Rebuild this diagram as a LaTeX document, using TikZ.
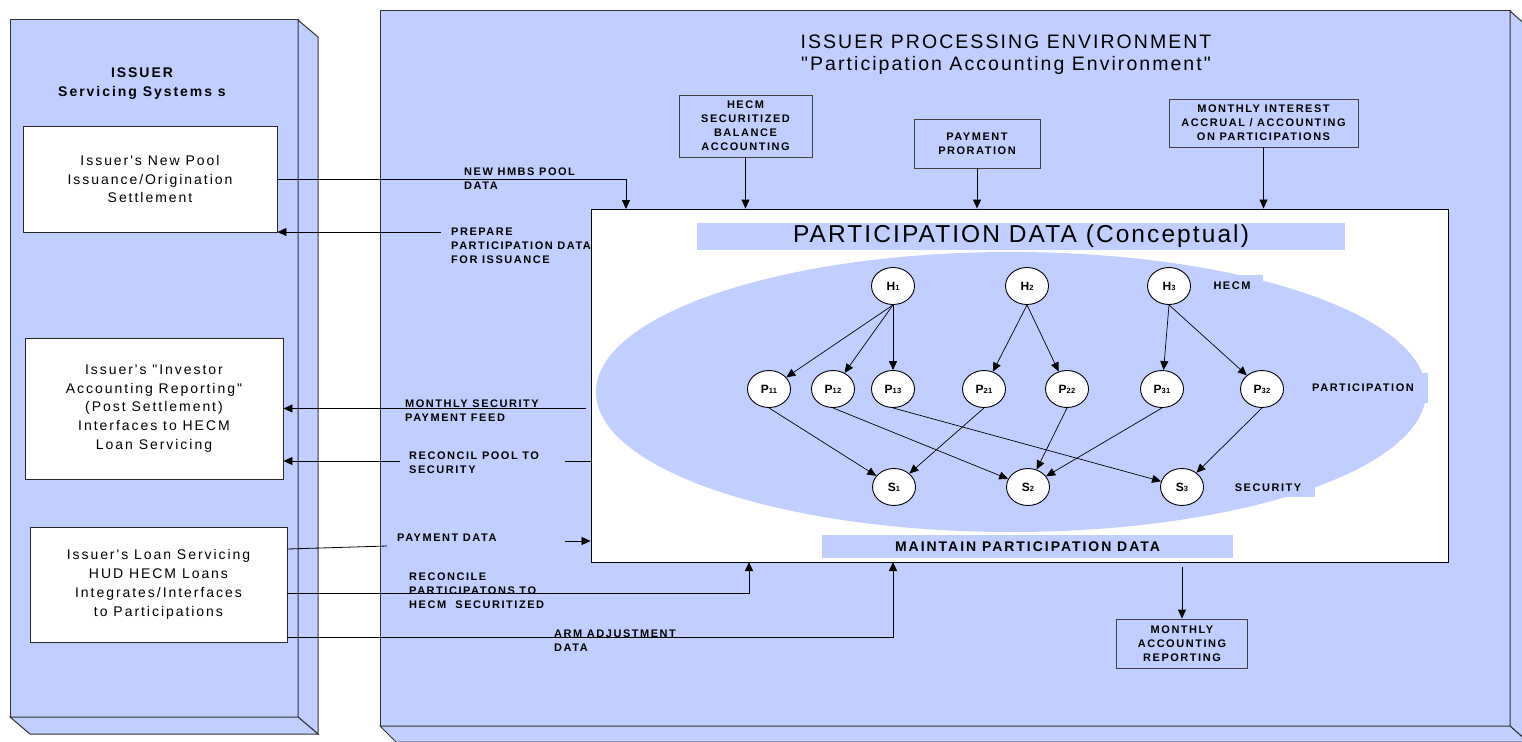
\documentclass[tikz,border=0pt]{standalone}
\usepackage{fontspec}
\setmainfont{Liberation Sans}
\newfontfamily\fsmall{Liberation Sans}[LetterSpace=14,Ligatures=TeXOff]
\newfontfamily\ftxt{Liberation Sans}[LetterSpace=14,Ligatures=TeXOff]
\newfontfamily\fttl{Liberation Sans}[LetterSpace=10.5,Ligatures=TeXOff]
\newfontfamily\fbig{Liberation Sans}[LetterSpace=8.5,Ligatures=TeXOff]
\newfontfamily\fnode{Liberation Sans}[LetterSpace=4,Ligatures=TeXOff]
\usetikzlibrary{arrows.meta,shapes.geometric}
\definecolor{bluefill}{RGB}{192,207,255}
\newcommand\pnd[2]{#1{\fontsize{7.5}{8}\selectfont #2}}
\begin{document}
\begin{tikzpicture}[x=1pt,y=-1pt,
  boxline/.style={draw=black!80,line width=1pt,fill=bluefill},
  arr/.style={-{Triangle[length=9pt,width=8pt]},line width=0.8pt,draw=black},
  sarr/.style={-{Triangle[length=9pt,width=8pt]},line width=0.7pt,draw=black},
  sys/.style={draw=black!85,fill=white,line width=0.9pt,align=center,inner sep=0pt,font=\ftxt\fontsize{14}{18.8}\selectfont},
  proc/.style={draw=black!75,fill=bluefill,line width=0.8pt,align=center,inner sep=0pt,font=\fsmall\bfseries\fontsize{11}{14}\selectfont},
  lbl/.style={anchor=north west,inner sep=0pt,align=left,font=\fsmall\bfseries\fontsize{11}{14}\selectfont},
  circ/.style={ellipse,draw=black,fill=white,line width=0.9pt,minimum width=43pt,minimum height=37pt,inner sep=0pt,font=\fnode\bfseries\fontsize{12}{13}\selectfont},
  tag/.style={fill=bluefill,inner sep=0pt,font=\fsmall\bfseries\fontsize{11}{12}\selectfont},
]
\useasboundingbox (0,0) rectangle (1522,741);
\fill[white] (0,0) rectangle (1522,741);
\clip (0,0) rectangle (1522,741);

% left 3D box
\draw[boxline] (10,20) rectangle (298,717);
\draw[boxline] (298,20) -- (318,37) -- (318,734) -- (298,717) -- cycle;
\draw[boxline] (10,717) -- (30,734) -- (318,734) -- (298,717) -- cycle;

% right 3D box
\draw[boxline] (380,11) rectangle (1510,726);
\draw[boxline] (1510,11) -- (1528,27) -- (1528,742) -- (1510,726) -- cycle;
\draw[boxline] (380,726) -- (396,742) -- (1528,742) -- (1510,726) -- cycle;

% titles
\node[align=center,inner sep=0pt,font=\ftxt\bfseries\fontsize{14}{19}\selectfont] (ltitle) at (142,84) {ISSUER\\Servicing Systems s};
\node[align=center,inner sep=0pt,font=\fttl\fontsize{19.5}{22}\selectfont] (rtitle) at (1006,55) {ISSUER PROCESSING ENVIRONMENT\\"Participation Accounting Environment"};

% issuer boxes
\node[sys,minimum width=254pt,minimum height=106pt] (box1) at (150,179) {Issuer's New Pool\\Issuance/Origination\\Settlement};
\node[sys,minimum width=258pt,minimum height=141pt] (box2) at (154,408.5) {Issuer's "Investor\\Accounting Reporting"\\(Post Settlement)\\Interfaces to HECM\\Loan Servicing};
\node[sys,minimum width=257pt,minimum height=115pt] (box3) at (158.5,584.5) {Issuer's Loan Servicing\\HUD HECM Loans\\Integrates/Interfaces\\to Participations};

% process boxes
\node[proc,minimum width=133pt,minimum height=62pt] (hecm) at (745.5,126) {HECM\\SECURITIZED\\BALANCE\\ACCOUNTING};
\node[proc,minimum width=126pt,minimum height=49pt] (pay) at (977,143.5) {PAYMENT\\PRORATION};
\node[proc,minimum width=189pt,minimum height=48pt] (mint) at (1263.5,123) {MONTHLY INTEREST\\ACCRUAL / ACCOUNTING\\ON PARTICIPATIONS};
\node[proc,minimum width=131pt,minimum height=49pt] (mar) at (1182,643.5) {MONTHLY\\ACCOUNTING\\REPORTING};

% connector labels
\node[lbl] (lnew) at (464,168) {NEW HMBS POOL\\DATA};
\node[lbl] (lprep) at (451,228) {PREPARE\\PARTICIPATION DATA\\FOR ISSUANCE};
\node[lbl] (lmsf) at (405,400) {MONTHLY SECURITY\\PAYMENT FEED};
\node[lbl] (lrec) at (409,452) {RECONCIL POOL TO\\SECURITY};
\node[lbl] (lpd) at (397,534) {PAYMENT DATA};
\node[lbl] (lrcp) at (409,573) {RECONCILE\\PARTICIPATONS TO\\HECM\ \ SECURITIZED};
\node[lbl] (larm) at (554,630) {ARM ADJUSTMENT\\DATA};

% participation data box
\node[draw=black,fill=white,line width=0.9pt,minimum width=857pt,minimum height=353pt,inner sep=0pt] (white) at (1019.5,385.5) {};
\node[fill=bluefill,minimum width=648pt,minimum height=27pt,inner sep=0pt,font=\fbig\fontsize{24.5}{26}\selectfont] (pdt) at (1021,236.5) {PARTICIPATION DATA (Conceptual)};
\fill[bluefill] (1011,392) ellipse [x radius=415, y radius=140];
\node[tag,minimum width=62pt,minimum height=22pt] (thecm) at (1232,286) {HECM};
\node[tag,minimum width=130pt,minimum height=30pt] (tpart) at (1363,388) {PARTICIPATION};
\node[tag,minimum width=94pt,minimum height=19pt] (tsec) at (1268,487.5) {SECURITY};
\node[fill=bluefill,minimum width=411pt,minimum height=23pt,inner sep=0pt,font=\fsmall\bfseries\fontsize{14}{15}\selectfont] (maint) at (1027.5,546.5) {MAINTAIN PARTICIPATION DATA};

% graph nodes
\node[circ] (h1) at (893,286) {\pnd{H}{1}};
\node[circ] (h2) at (1027,286) {\pnd{H}{2}};
\node[circ] (h3) at (1169,286) {\pnd{H}{3}};
\node[circ] (p11) at (769,389) {\pnd{P}{11}};
\node[circ] (p12) at (833,389) {\pnd{P}{12}};
\node[circ] (p13) at (893,389) {\pnd{P}{13}};
\node[circ] (p21) at (984,389) {\pnd{P}{21}};
\node[circ] (p22) at (1067,389) {\pnd{P}{22}};
\node[circ] (p31) at (1162,389) {\pnd{P}{31}};
\node[circ] (p32) at (1262,389) {\pnd{P}{32}};
\node[circ] (s1) at (894,487) {\pnd{S}{1}};
\node[circ] (s2) at (1028,487) {\pnd{S}{2}};
\node[circ] (s3) at (1182,487) {\pnd{S}{3}};
\foreach \a/\b in {h1/p11,h1/p12,h1/p13,h2/p21,h2/p22,h3/p31,h3/p32,p11/s1,p12/s2,p13/s3,p21/s1,p22/s2,p31/s2,p32/s3}
  \draw[sarr] (\a.south) -- (\b);

% top arrows
\draw[arr] (hecm.south) -- (hecm.south |- white.north);
\draw[arr] (pay.south) -- (pay.south |- white.north);
\draw[arr] (mint.south) -- (mint.south |- white.north);

% left connectors
\coordinate (nh) at (626,209);
\draw[arr] (box1.east) -| (nh);
\coordinate (prep) at (441,232);
\draw[arr] (prep) -- (prep -| box1.east);
\coordinate (msf) at (586,408.5);
\draw[arr] (msf) -- (msf -| box2.east);
\coordinate (rc1) at (565,461);
\coordinate (rc2) at (400,461);
\draw[line width=0.8pt] (white.west |- rc1) -- (rc1);
\draw[arr] (rc2) -- (rc2 -| box2.east);
\coordinate (pd0) at (box3.east |- 0,549);
\coordinate (pd1) at (387,546);
\draw[line width=0.8pt] (pd0) -- (pd1);
\coordinate (pd2) at (565,541);
\draw[arr] (pd2) -- (pd2 -| white.west);
\coordinate (rp0) at (box3.east |- 0,593);
\coordinate (rp1) at (749,562);
\draw[arr] (rp0) -| (rp1);
\coordinate (am0) at (box3.east |- 0,637);
\coordinate (am1) at (893,562);
\draw[arr] (am0) -| (am1);
\coordinate (mr) at (1182,567);
\draw[arr] (mr) -- (mar.north);
\end{tikzpicture}
\end{document}
